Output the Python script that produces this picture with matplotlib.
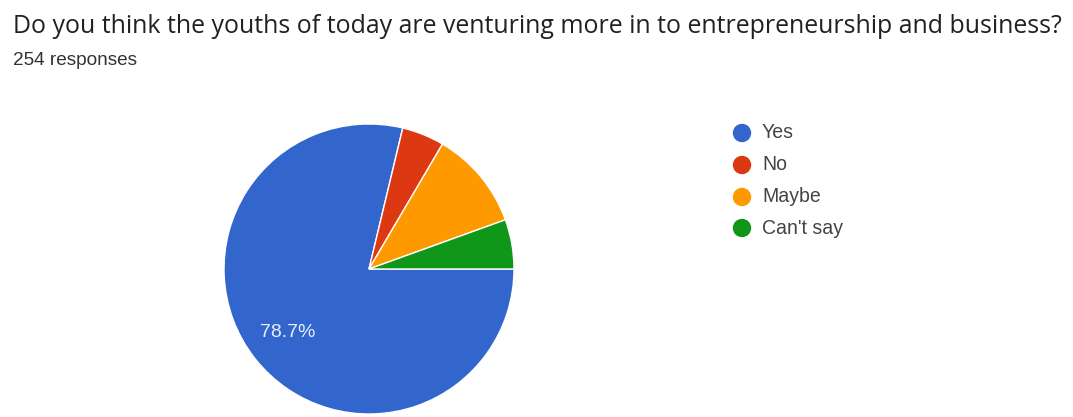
import matplotlib.pyplot as plt

plt.rcParams['font.family'] = ['Roboto', 'DejaVu Sans']

labels = ["Yes", "No", "Maybe", "Can't say"]
counts = [200, 12, 28, 14]
colors = ["#3366cc", "#dc3912", "#ff9900", "#109618"]
title = "Do you think the youths of today are venturing more in to entrepreneurship and business?"
subtitle = "254 responses"

W, H = 1073, 417
fig = plt.figure(figsize=(W / 100, H / 100), dpi=100)


def fit_width(txt, px):
    # rescale a text object so that it spans px pixels
    fig.canvas.draw()
    w = txt.get_window_extent().width
    txt.set_fontsize(txt.get_fontsize() * px / w)


# pie placed in pixel units: centre (369, 269) from top-left, radius 145
cx, cy, r = 369, 269, 145
ax = fig.add_axes([(cx - r) / W, (H - cy - r) / H, 2 * r / W, 2 * r / H])


def pct_label(p):
    return f"{p:.1f}%" if p > 15 else ""


wedges, texts, autotexts = ax.pie(
    counts, colors=colors, startangle=0, counterclock=False,
    autopct=pct_label, pctdistance=0.71, radius=1,
    wedgeprops=dict(edgecolor="white", linewidth=1),
    textprops=dict(color="#e8eefc", fontsize=12, family=["Liberation Sans", "DejaVu Sans"]),
)
ax.set_xlim(-1, 1)
ax.set_ylim(-1, 1)
ax.set_aspect("equal")
ax.axis("off")

t = fig.text(13 / W, 1 - 33 / H, title, fontsize=17, color="#202124",
             va="baseline", ha="left", family=["Open Sans", "DejaVu Sans"])
s = fig.text(13 / W, 1 - 65 / H, subtitle, fontsize=12, color="#333333",
             va="baseline", ha="left", family=["Liberation Sans", "DejaVu Sans"])

# legend entries
leg_y = [133, 165, 197, 228]
leg_texts = []
for lab, col, y in zip(labels, colors, leg_y):
    fig.patches.append(plt.Circle((742, H - y), 8.5, color=col, transform=None, figure=fig))
    lt = fig.text(762 / W, 1 - y / H, lab, fontsize=12, color="#444444", va="center",
                  ha="left", family=["Liberation Sans", "DejaVu Sans"])
    leg_texts.append(lt)

fit_width(t, 1052)
fit_width(s, 125)
fit_width(leg_texts[-1], 81)
for lt in leg_texts[:-1]:
    lt.set_fontsize(leg_texts[-1].get_fontsize())
for at in autotexts:
    if at.get_text():
        fit_width(at, 55)

fig.savefig("out.png", dpi=100)
